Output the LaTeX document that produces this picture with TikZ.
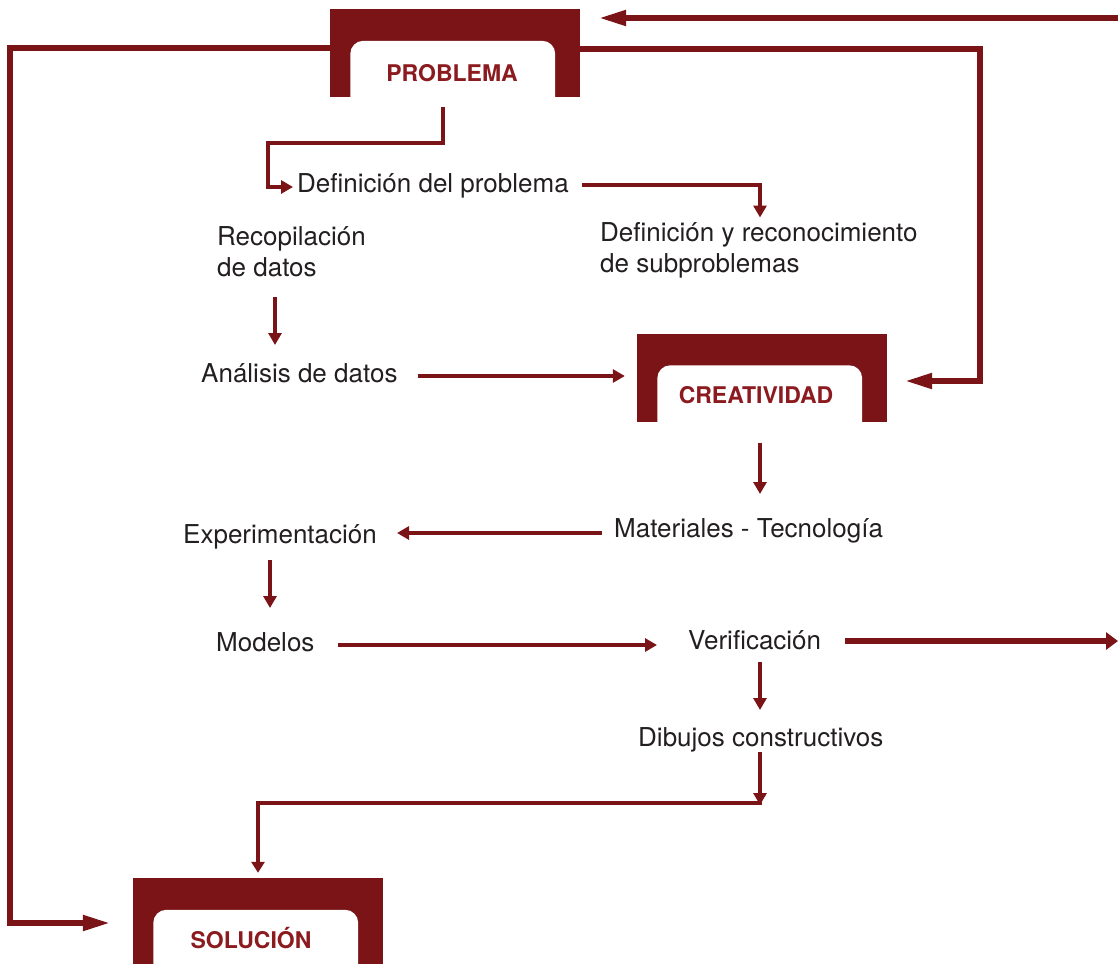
\documentclass[tikz,border=0pt]{standalone}
\usepackage{fontspec}
\setmainfont{TeX Gyre Heros}
\usetikzlibrary{arrows.meta,calc}
\definecolor{boxred}{RGB}{122,20,23}
\definecolor{lblred}{RGB}{140,27,32}
\definecolor{txt}{RGB}{35,31,32}
\begin{document}
\begin{tikzpicture}[x=1pt,y=-1pt,
 txtnode/.style={font=\fontsize{26}{31}\selectfont, text=txt, inner sep=0pt, align=left},
 boxarea/.style={minimum width=250pt, minimum height=88pt, inner sep=0pt, fill=boxred},
 boxlbl/.style={font=\fontsize{23}{27}\selectfont\bfseries, text=lblred, inner sep=0pt, anchor=base},
 conn/.style={draw=boxred, line width=3.2pt, -{Triangle[length=12pt,width=13pt]}},
 connmid/.style={conn, line width=4.5pt},
 loopln/.style={draw=boxred, line width=5.2pt, -{Triangle[length=27pt,width=15pt]}},
 outln/.style={draw=boxred, line width=6.5pt, -{Triangle[length=12pt,width=17pt]}},
]
\useasboundingbox (0,0) rectangle (1118,963);

% boxes
\node[boxarea] (prob) at (455,53) {};
\node[boxarea] (cre) at (762,377.5) {};
\node[boxarea] (sol) at (258,922) {};
\foreach \b in {prob,cre,sol}{
  \begin{scope}
    \clip (\b.south west) rectangle (\b.north east);
    \fill[white, rounded corners=13pt] ([xshift=20.5pt,yshift=-32pt]\b.north west) rectangle ([xshift=-25pt,yshift=-30pt]\b.south east);
  \end{scope}
}
\node[boxlbl] (probl) at (452,82) {PROBLEMA};
\node[boxlbl] (crel) at (756,403) {CREATIVIDAD};
\node[boxlbl] (soll) at (251,948) {SOLUCIÓN};

% texts
\node[txtnode, anchor=base west] (def) at (297,192) {Definición del problema};
\node[txtnode, anchor=south west] (rec) at (217,277) {Recopilación\\de datos};
\node[txtnode, anchor=south west] (sub) at (600,278.5) {Definición y reconocimiento\\de subproblemas};
\node[txtnode, anchor=base west] (ana) at (201,382) {Análisis de datos};
\node[txtnode, anchor=base west] (exp) at (183,543) {Experimentación};
\node[txtnode, anchor=base west] (mat) at (614,537) {Materiales - Tecnología};
\node[txtnode, anchor=base west] (mod) at (216,651) {Modelos};
\node[txtnode, anchor=base west] (ver) at (688,649) {Verificación};
\node[txtnode, anchor=base west] (dib) at (638,746) {Dibujos constructivos};

% free ends and turns
\coordinate (topin) at (1118,18);
\coordinate (rturn) at (980,381);
\coordinate (lturn) at (10,923);
\coordinate (pturn) at (268,143);
\coordinate (rightout) at (1118,641);
\coordinate (junc) at (760,805);

% connectors
\draw[loopln, shorten >=19pt] (topin) -- (topin -| prob.east);
\draw[loopln, shorten >=18pt] ([yshift=4pt]prob.east) -| (rturn) -- (rturn -| cre.east);
\draw[loopln, shorten >=23pt] ([yshift=5pt]prob.west) -| (lturn) -- (lturn -| sol.west);

\draw[conn, shorten >=4pt] ([xshift=-12pt,yshift=-10pt]prob.south) |- (pturn) |- ([yshift=5pt]def.base west);
\draw[conn, shorten >=61pt] ([xshift=13pt,yshift=7pt]def.base east) -| ([xshift=160pt]sub.south west);
\draw[conn, shorten >=37pt] ([xshift=58pt,yshift=-20pt]rec.south west) coordinate (r1) -- (r1 |- ana.base);
\draw[connmid, shorten >=12pt] ([xshift=20pt,yshift=6pt]ana.base east) coordinate (a1) -- (a1 -| cre.west);
\draw[conn, shorten >=43pt] ([xshift=-2pt,yshift=-21pt]cre.south) coordinate (c1) -- (c1 |- mat.base);
\draw[connmid, shorten >=20pt] ([xshift=-12pt,yshift=4pt]mat.base west) coordinate (m1) -- (m1 -| exp.base east);
\draw[conn, shorten >=43pt] ([xshift=87pt,yshift=-17pt]exp.base west) coordinate (e1) -- (e1 |- mod.base);
\draw[connmid, shorten >=31pt] ([xshift=23pt,yshift=6pt]mod.base east) coordinate (o1) -- (o1 -| ver.base west);
\draw[outln] ([xshift=24pt,yshift=8pt]ver.base east) -- (rightout);
\draw[conn, shorten >=36pt] ([xshift=72pt,yshift=-13pt]ver.base west) coordinate (v1) -- (v1 |- dib.base);
\draw[conn] ([xshift=122pt,yshift=-6pt]dib.base west) -- (junc);
\draw[connmid, shorten >=5pt, -{Triangle[length=11pt,width=13pt]}] ([xshift=1.5pt,yshift=2pt]junc) -| (sol.north);
\end{tikzpicture}
\end{document}
